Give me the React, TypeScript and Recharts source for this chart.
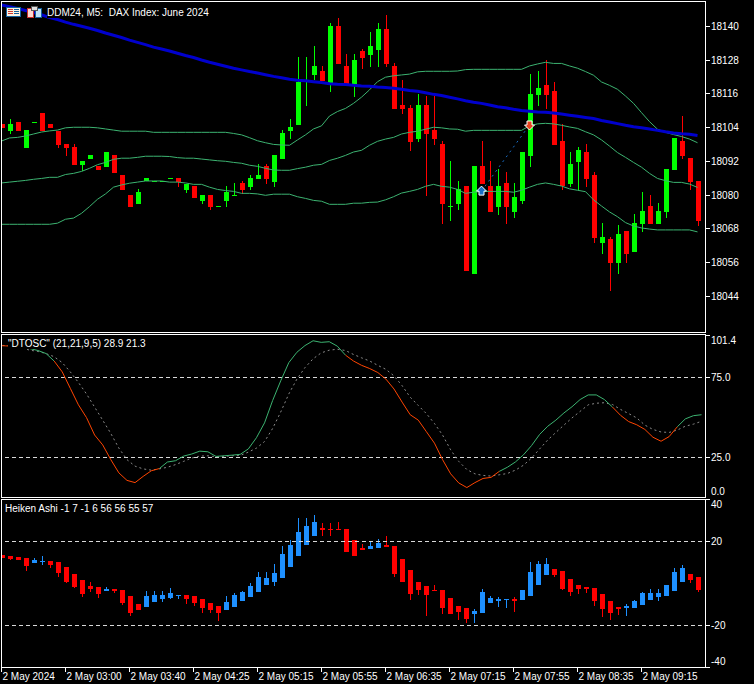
import React from "react"
import { Bar, ComposedChart, Line, ReferenceLine, XAxis, YAxis } from "recharts"

const FONT = "'Liberation Sans', Arial, sans-serif"

const tickLabels = [
  "2 May 2024", "2 May 03:00", "2 May 03:40", "2 May 04:25", "2 May 05:15", "2 May 05:55",
  "2 May 06:35", "2 May 07:15", "2 May 07:55", "2 May 08:35", "2 May 09:15",
]

const priceTicks = [18140, 18128, 18116, 18104, 18092, 18080, 18068, 18056, 18044]
const oscTicks = [101.4, 75, 25, 0]
const haTicks = [40, 20, -20, -40]

const priceOpen = [
  18105.3, 18102.8, 18106.0, 18096.7, 18105.6, 18109.2, 18105.3, 18102.8, 18098.2, 18097.1, 18090.7,
  18092.8, 18090.3, 18090.0, 18094.3, 18087.1, 18080.0, 18076.8, 18084.9, 18084.8, 18084.8, 18085.8,
  18086.1, 18081.8, 18083.2, 18077.9, 18080.0, 18075.8, 18077.9, 18079.8, 18084.3, 18082.9, 18085.7,
  18090.3, 18084.7, 18092.8, 18102.8, 18104.9, 18120.6, 18122.7, 18124.1, 18119.5, 18140.1, 18125.9,
  18119.5, 18131.2, 18129.8, 18131.6, 18139.1, 18125.9, 18112.0, 18111.0, 18099.9, 18112.0, 18103.1,
  18098.2, 18075.8, 18076.8, 18083.2, 18051.9, 18090.3, 18083.2, 18075.8, 18084.3, 18074.0, 18077.9,
  18093.9, 18115.6, 18119.1, 18117.0, 18099.2, 18083.9, 18091.8, 18095.3, 18087.1, 18063.0, 18064.4,
  18055.8, 18067.2, 18059.8, 18069.7, 18076.1, 18069.7, 18074.0, 18088.9, 18099.2, 18093.2, 18085.0,
]
const priceHigh = [
  18105.3, 18107.1, 18106.0, 18103.1, 18106.0, 18109.2, 18105.3, 18102.8, 18098.2, 18098.2, 18092.1,
  18094.3, 18090.3, 18095.3, 18094.3, 18087.1, 18080.0, 18082.2, 18086.1, 18085.0, 18085.0, 18086.1,
  18086.1, 18083.9, 18083.2, 18080.0, 18080.0, 18076.1, 18083.2, 18084.3, 18085.0, 18087.1, 18091.1,
  18091.1, 18094.3, 18103.1, 18107.1, 18129.1, 18129.1, 18133.0, 18125.9, 18141.2, 18143.0, 18130.2,
  18130.2, 18131.9, 18138.0, 18141.2, 18144.0, 18127.0, 18120.9, 18112.0, 18115.9, 18115.2, 18115.2,
  18099.2, 18092.1, 18085.0, 18083.2, 18090.3, 18099.2, 18092.1, 18089.3, 18088.2, 18084.3, 18095.3,
  18123.1, 18124.1, 18128.0, 18120.2, 18105.3, 18095.3, 18097.1, 18098.2, 18088.2, 18070.1, 18065.1,
  18069.4, 18067.2, 18073.3, 18081.1, 18080.0, 18077.2, 18089.3, 18100.3, 18108.1, 18093.2, 18085.0,
]
const priceLow = [
  18103.9, 18101.7, 18102.8, 18096.7, 18105.6, 18102.8, 18103.9, 18096.9, 18093.9, 18090.7, 18088.6,
  18092.8, 18088.9, 18090.0, 18087.9, 18081.8, 18075.8, 18076.8, 18084.9, 18084.8, 18084.8, 18085.8,
  18082.9, 18080.7, 18079.0, 18076.8, 18074.7, 18075.8, 18075.8, 18079.7, 18080.4, 18081.8, 18085.7,
  18083.9, 18082.9, 18092.8, 18099.9, 18104.9, 18111.7, 18120.9, 18120.6, 18116.7, 18126.6, 18119.5,
  18114.9, 18124.8, 18125.5, 18125.5, 18125.5, 18110.6, 18108.8, 18095.7, 18098.9, 18079.7, 18097.8,
  18069.7, 18070.8, 18074.7, 18053.0, 18051.9, 18083.9, 18074.0, 18072.9, 18069.7, 18071.9, 18076.8,
  18090.0, 18111.7, 18110.6, 18097.8, 18081.8, 18082.9, 18081.8, 18082.9, 18063.0, 18059.0, 18045.9,
  18051.9, 18055.8, 18059.8, 18066.9, 18069.7, 18069.7, 18071.9, 18088.9, 18092.8, 18081.8, 18069.0,
]
const priceClose = [
  18103.9, 18105.3, 18102.8, 18103.1, 18106.0, 18102.8, 18103.9, 18097.8, 18096.7, 18090.7, 18092.1,
  18094.3, 18088.9, 18095.3, 18087.9, 18081.8, 18075.8, 18081.1, 18086.1, 18085.0, 18085.0, 18086.1,
  18084.7, 18083.9, 18079.0, 18080.0, 18075.8, 18076.1, 18081.1, 18080.0, 18081.8, 18086.1, 18087.1,
  18085.7, 18094.3, 18102.1, 18104.2, 18120.2, 18120.9, 18125.9, 18120.6, 18140.1, 18126.6, 18119.5,
  18128.0, 18128.7, 18133.0, 18139.1, 18126.6, 18110.6, 18110.6, 18098.9, 18112.0, 18101.7, 18099.9,
  18076.8, 18076.1, 18082.2, 18053.0, 18090.3, 18083.9, 18074.0, 18083.2, 18075.8, 18079.3, 18095.3,
  18115.9, 18118.1, 18115.6, 18097.8, 18083.2, 18091.1, 18096.0, 18085.7, 18064.7, 18065.1, 18055.8,
  18066.2, 18059.0, 18070.1, 18074.3, 18069.7, 18074.3, 18089.3, 18100.3, 18093.9, 18084.7, 18070.8,
]

const bandUpper = [
  18099.2, 18100.3, 18100.5, 18101.0, 18101.7, 18102.4, 18102.8, 18103.1, 18103.9, 18104.1, 18104.1,
  18104.1, 18103.9, 18103.5, 18103.1, 18102.7, 18102.7, 18102.7, 18102.7, 18102.3, 18102.3, 18102.3,
  18102.3, 18102.3, 18102.3, 18102.3, 18102.3, 18102.3, 18102.3, 18101.9, 18101.4, 18100.4, 18099.3,
  18098.6, 18098.0, 18097.8, 18097.7, 18099.6, 18101.4, 18103.5, 18104.6, 18108.1, 18109.7, 18110.8,
  18112.6, 18114.8, 18117.4, 18120.3, 18121.9, 18122.4, 18122.7, 18123.0, 18123.8, 18124.0, 18124.0,
  18124.0, 18124.0, 18124.1, 18124.6, 18124.7, 18124.7, 18124.7, 18124.7, 18124.7, 18124.7, 18124.7,
  18125.9, 18126.6, 18127.2, 18126.8, 18126.8, 18125.9, 18125.1, 18123.9, 18122.6, 18120.2, 18119.0,
  18117.6, 18115.2, 18112.6, 18109.3, 18106.1, 18103.4, 18102.3, 18101.5, 18100.8, 18099.9, 18098.6,
]
const bandMiddle = [
  18084.3, 18084.6, 18084.9, 18085.2, 18085.6, 18085.9, 18086.3, 18086.3, 18087.3, 18087.7, 18088.4,
  18089.5, 18090.8, 18091.6, 18092.7, 18093.1, 18093.1, 18093.4, 18093.8, 18093.8, 18093.8, 18093.7,
  18093.3, 18093.1, 18093.1, 18092.8, 18092.5, 18092.2, 18092.0, 18091.6, 18091.3, 18090.6, 18090.2,
  18089.5, 18088.9, 18088.8, 18088.8, 18089.4, 18089.9, 18090.6, 18090.9, 18092.3, 18093.1, 18094.1,
  18095.3, 18095.9, 18097.7, 18099.1, 18099.9, 18100.5, 18101.7, 18102.3, 18102.7, 18103.4, 18104.1,
  18103.9, 18103.5, 18103.4, 18102.7, 18103.0, 18103.0, 18103.0, 18103.0, 18103.0, 18103.0, 18103.0,
  18104.6, 18105.3, 18105.5, 18105.3, 18104.8, 18104.2, 18103.7, 18102.5, 18101.4, 18099.6, 18097.4,
  18095.1, 18093.4, 18091.6, 18089.9, 18087.7, 18085.9, 18085.1, 18084.5, 18084.5, 18083.9, 18082.7,
]
const bandLower = [
  18069.6, 18069.6, 18069.6, 18069.6, 18069.6, 18069.6, 18069.6, 18070.0, 18071.4, 18071.8, 18073.5,
  18075.9, 18078.5, 18080.4, 18082.8, 18083.6, 18084.2, 18084.6, 18085.0, 18085.0, 18085.0, 18084.6,
  18084.6, 18084.3, 18083.8, 18083.8, 18082.8, 18082.0, 18081.6, 18081.3, 18080.6, 18080.6, 18080.4,
  18079.9, 18080.3, 18080.3, 18080.3, 18079.4, 18078.8, 18078.1, 18077.8, 18076.7, 18076.7, 18076.7,
  18077.1, 18077.1, 18077.4, 18077.5, 18078.3, 18079.4, 18080.7, 18081.3, 18082.0, 18083.1, 18083.8,
  18083.1, 18082.8, 18082.0, 18080.6, 18081.0, 18081.3, 18081.3, 18081.3, 18081.3, 18081.0, 18081.7,
  18082.8, 18083.8, 18084.3, 18083.8, 18083.2, 18082.2, 18081.7, 18081.2, 18078.3, 18076.1, 18074.0,
  18072.3, 18070.2, 18069.0, 18068.3, 18067.9, 18067.6, 18067.6, 18067.6, 18067.6, 18067.6, 18066.9,
]
const movingAverage = [
  18147.6, 18147.0, 18146.3, 18145.6, 18144.9, 18144.1, 18143.1, 18142.4, 18141.5, 18140.7, 18140.0,
  18139.3, 18138.5, 18137.6, 18136.8, 18136.0, 18135.1, 18134.3, 18133.5, 18132.6, 18131.9, 18131.2,
  18130.4, 18129.6, 18128.9, 18128.0, 18127.2, 18126.5, 18125.8, 18125.1, 18124.5, 18123.9, 18123.4,
  18122.8, 18122.2, 18121.7, 18121.2, 18120.8, 18120.6, 18120.3, 18120.0, 18119.6, 18119.4, 18119.3,
  18119.0, 18118.8, 18118.7, 18118.4, 18118.2, 18118.0, 18117.6, 18117.2, 18116.9, 18116.4, 18115.8,
  18115.4, 18114.8, 18114.2, 18113.5, 18113.0, 18112.6, 18112.0, 18111.4, 18111.0, 18110.5, 18110.1,
  18109.8, 18109.5, 18109.4, 18109.2, 18108.8, 18108.4, 18108.0, 18107.6, 18107.2, 18106.5, 18106.0,
  18105.4, 18104.8, 18104.3, 18103.9, 18103.5, 18103.0, 18102.5, 18102.1, 18101.8, 18101.6, 18101.2,
]

const tradeBars = [60, 66]
const tradePrices = [18081.4, 18104.9]

const oscFast = [
  94.8, 94.6, 94.4, 93.9, 92.9, 91.7, 89.8, 85.1, 78.3, 68.0, 57.7,
  49.7, 38.8, 32.6, 23.4, 15.1, 10.4, 9.0, 12.9, 16.4, 17.8, 21.9,
  22.7, 25.6, 26.9, 28.7, 28.3, 25.4, 25.8, 26.2, 26.7, 30.1, 37.1,
  46.4, 60.4, 72.7, 84.1, 90.6, 94.8, 97.8, 96.8, 97.2, 94.4, 88.8,
  85.1, 82.4, 80.4, 77.9, 73.8, 67.6, 59.4, 51.5, 48.1, 40.9, 33.7,
  23.4, 14.5, 8.8, 5.9, 9.0, 11.6, 12.3, 16.0, 18.6, 21.9, 26.4,
  32.2, 39.2, 44.3, 48.1, 52.6, 56.5, 61.0, 63.9, 63.9, 61.0, 56.3,
  51.1, 47.2, 45.2, 42.3, 37.4, 34.9, 37.8, 43.9, 48.9, 50.9, 51.5,
]
const oscSlow = [
  95.0, 94.8, 94.4, 93.3, 91.9, 91.1, 89.8, 87.8, 84.1, 78.3, 71.7,
  64.5, 56.3, 48.1, 39.8, 30.6, 23.4, 19.3, 17.6, 16.8, 17.6, 18.6,
  20.3, 22.3, 24.4, 25.6, 25.8, 25.2, 25.4, 25.8, 26.0, 28.1, 30.6,
  34.7, 42.9, 53.2, 64.5, 73.8, 81.0, 86.5, 90.2, 91.9, 92.5, 91.7,
  89.2, 87.1, 85.1, 82.4, 79.9, 75.8, 69.7, 62.5, 57.3, 52.2, 46.0,
  38.8, 29.5, 22.3, 17.2, 14.5, 13.5, 13.1, 13.9, 14.7, 16.8, 19.9,
  24.4, 30.1, 35.7, 40.4, 45.0, 49.5, 53.6, 57.7, 58.7, 59.0, 57.9,
  54.8, 52.2, 49.5, 45.0, 42.3, 40.7, 40.4, 41.9, 44.3, 45.6, 47.4,
]

const haOpen = [
  13.5, 13.0, 12.5, 12.1, 9.7, 10.2, 10.6, 10.2, 7.8, 4.4, 1.6,
  -1.3, -1.7, -3.7, -2.7, -3.2, -6.0, -9.8, -11.3, -8.9, -7.5, -7.0,
  -6.0, -5.6, -6.0, -7.5, -9.4, -10.8, -12.7, -11.3, -8.4, -6.5, -4.1,
  -0.8, 0.6, 2.5, 7.8, 13.0, 18.3, 22.5, 26.3, 25.9, 25.9, 25.9,
  20.6, 16.8, 16.3, 16.8, 18.3, 17.8, 11.6, 6.3, 0.6, -1.3, -3.2,
  -3.2, -7.0, -10.8, -11.7, -14.6, -14.1, -9.4, -8.4, -7.8, -7.5, -7.9,
  -6.0, -0.8, 4.0, 6.8, 5.9, 2.1, -0.8, -1.7, -2.2, -5.1, -8.4,
  -11.3, -11.7, -11.7, -10.3, -7.9, -6.5, -6.0, -3.7, 0.6, 4.4, 3.0,
]
const haHigh = [
  13.5, 13.0, 12.5, 12.1, 12.1, 13.0, 10.6, 10.2, 7.8, 4.4, 1.6,
  0.6, -1.7, -1.7, -2.7, -3.2, -6.0, -9.8, -3.7, -3.7, -3.7, -2.2,
  -5.6, -5.6, -6.0, -7.5, -9.4, -10.8, -6.0, -4.6, -3.7, 0.2, 5.4,
  5.4, 9.2, 17.8, 20.6, 31.1, 31.1, 32.5, 28.7, 28.7, 29.2, 25.9,
  20.6, 18.7, 20.2, 21.1, 22.5, 17.8, 11.6, 6.3, 0.6, -1.3, -0.8,
  -3.2, -7.0, -10.8, -11.7, -12.2, -2.7, -6.0, -6.5, -7.5, -6.5, -3.2,
  10.2, 10.6, 12.1, 6.8, 5.9, 2.1, -0.8, -1.7, -2.2, -5.1, -8.4,
  -11.3, -9.8, -7.9, -4.1, -2.7, -2.7, -0.8, 7.3, 8.7, 4.4, 3.0,
]
const haLow = [
  12.1, 11.1, 11.1, 5.9, 9.7, 8.7, 7.3, 3.0, 0.2, -2.2, -6.5,
  -4.1, -7.0, -3.7, -4.6, -10.3, -15.6, -12.7, -11.3, -8.9, -8.9, -7.5,
  -7.5, -9.8, -10.8, -14.1, -14.1, -17.9, -12.7, -11.3, -8.4, -6.5, -4.1,
  -0.8, -1.3, 2.5, 7.8, 13.0, 18.3, 22.5, 22.5, 22.5, 25.4, 14.9,
  13.0, 15.9, 16.3, 16.8, 17.3, 3.0, 0.6, -7.9, -5.6, -15.6, -3.7,
  -14.6, -14.6, -17.5, -18.9, -18.9, -14.1, -9.4, -11.3, -11.7, -13.7, -7.9,
  -6.0, -0.8, 4.0, 3.0, -3.2, -6.0, -5.1, -4.6, -10.8, -16.0, -17.5,
  -15.1, -15.6, -11.7, -10.3, -7.9, -8.4, -6.0, -3.7, 0.6, 0.2, -4.1,
]
const haClose = [
  12.1, 11.6, 11.1, 8.3, 11.1, 10.6, 8.7, 4.9, 0.6, -1.7, -5.1,
  -2.7, -5.1, -2.7, -3.7, -9.4, -14.1, -12.7, -6.0, -5.6, -5.6, -4.6,
  -5.6, -7.5, -9.4, -11.7, -12.7, -14.1, -8.9, -5.6, -4.1, -1.3, 3.0,
  2.5, 4.9, 14.0, 18.3, 24.4, 27.3, 29.2, 25.4, 25.4, 25.4, 14.9,
  13.0, 15.9, 17.8, 19.2, 17.3, 4.4, 0.6, -5.1, -3.2, -5.6, -3.7,
  -11.7, -14.6, -13.7, -17.0, -13.2, -4.1, -7.0, -7.5, -7.5, -8.4, -3.2,
  5.4, 9.2, 9.2, 4.0, -2.7, -4.1, -2.7, -2.7, -8.4, -12.2, -14.1,
  -12.2, -10.8, -8.4, -4.6, -4.6, -4.6, -0.8, 5.4, 7.3, 1.6, -3.2,
]

const priceData = priceOpen.map((open, k) => ({
  k,
  open,
  close: priceClose[k],
  range: [priceLow[k], priceHigh[k]],
  upper: bandUpper[k],
  middle: bandMiddle[k],
  lower: bandLower[k],
  ma: movingAverage[k],
  trade: tradeBars.includes(k) ? tradePrices[tradeBars.indexOf(k)] : null,
}))

// the fast line is green while it sits above the slow one, orange otherwise
const isAbove = (k: number) => oscFast[k] >= oscSlow[k]
const oscData = oscFast.map((fast, k) => ({
  k,
  slow: oscSlow[k],
  rising: isAbove(k) || (k > 0 && isAbove(k - 1)) ? fast : null,
  falling: !isAbove(k) || (k > 0 && !isAbove(k - 1)) ? fast : null,
}))

const haData = haOpen.map((open, k) => ({
  k,
  open,
  close: haClose[k],
  range: [haLow[k], haHigh[k]],
}))

const candleShape = (upColor: string) => (props: any) => {
  const { x, y, width, height, payload } = props
  const [low, high] = payload.range
  const unit = height / (high - low)
  const top = y + (high - Math.max(payload.open, payload.close)) * unit
  const bodyHeight = Math.max(Math.abs(payload.open - payload.close) * unit, 1)
  const color = payload.close >= payload.open ? upColor : "#ff0000"
  return (
    <g shapeRendering="crispEdges">
      <rect x={x + 2} y={y} width={1} height={height} fill={color} />
      <rect x={x} y={top} width={width} height={bodyHeight} fill={color} />
    </g>
  )
}

const valueTick = (format: (v: number) => string, nudge: Record<string, number>) => (props: any) => {
  const { x, y, payload } = props
  const shift = nudge[payload.value] ?? 0
  return (
    <g>
      <line x1={x + 3.5} x2={x + 8.5} y1={y} y2={y} stroke="#fff" shapeRendering="crispEdges" />
      <text x={x + 9.5} y={y + shift + 3.5} fill="#fff" fontSize={10} fontFamily={FONT}>
        {format(payload.value)}
      </text>
    </g>
  )
}

const TimeTick = (props: any) => {
  const { x, y, payload } = props
  return (
    <g>
      <line x1={x} x2={x} y1={y} y2={y + 5} stroke="#fff" shapeRendering="crispEdges" />
      <text x={x + 1} y={y + 13} fill="#fff" fontSize={10} fontFamily={FONT}>
        {tickLabels[payload.value / 8]}
      </text>
    </g>
  )
}

const tradeDot = (props: any) => {
  const { cx, cy, payload, index } = props
  if (payload.trade == null) return <g key={index} />
  const dir = payload.k === tradeBars[0] ? 1 : -1
  const points = [[0, -5], [5, 0], [2.5, 0], [2.5, 4], [-2.5, 4], [-2.5, 0], [-5, 0]]
    .map(([px, py]) => `${cx + px},${cy + py * dir}`)
    .join(" ")
  return <polygon key={index} points={points} fill={dir > 0 ? "#1a6fc8" : "#e8431f"} stroke="#fff" strokeWidth={1} />
}

const MARGIN_LEFT = 5.5
const AXIS_WIDTH = 52.5
const CHART_WIDTH = 762

const panelStyle = (top: number, height: number): React.CSSProperties => ({
  position: "absolute",
  left: -8,
  top,
  width: CHART_WIDTH,
  height,
})

const frameStyle = (top: number, height: number): React.CSSProperties => ({
  position: "absolute",
  left: 1,
  top,
  width: 703,
  height,
  border: "1px solid #fff",
  pointerEvents: "none",
})

const labelStyle: React.CSSProperties = {
  position: "absolute",
  color: "#fff",
  fontFamily: FONT,
  fontSize: 10,
  lineHeight: "11px",
  whiteSpace: "pre",
  background: "#000",
}

const Icons = () => (
  <svg width={40} height={14} style={{ position: "absolute", left: 5, top: 6 }}>
    <rect x={1.5} y={1.5} width={14} height={9} fill="#fdf3e2" stroke="#14609c" />
    <rect x={3} y={3} width={5} height={1} fill="#d0392b" />
    <rect x={3} y={5} width={5} height={1} fill="#d0392b" />
    <rect x={3} y={7} width={5} height={1} fill="#d0392b" />
    <rect x={9} y={3} width={5} height={1} fill="#14609c" />
    <rect x={9} y={5} width={5} height={1} fill="#14609c" />
    <rect x={9} y={7} width={5} height={1} fill="#14609c" />
    <rect x={22.5} y={2.5} width={6} height={9} fill="#fbd8d0" stroke="#c9302c" />
    <rect x={30.5} y={2.5} width={6} height={9} fill="#bfe3f7" stroke="#14609c" />
    <rect x={26.5} y={0.5} width={6} height={4} fill="#ddd" stroke="#555" />
  </svg>
)

export default function App() {
  return (
    <div style={{ position: "relative", width: 754, height: 684, background: "#000", overflow: "hidden" }}>
      <style>{"body{margin:0;background:#000}"}</style>

      <div style={panelStyle(2, 330)}>
        <ComposedChart width={CHART_WIDTH} height={330} data={priceData} margin={{ top: 0, right: 0, bottom: 0, left: MARGIN_LEFT }}>
          <XAxis dataKey="k" hide />
          <YAxis
            orientation="right"
            width={AXIS_WIDTH}
            domain={[18031.3, 18148.64]}
            ticks={priceTicks}
            interval={0}
            allowDataOverflow
            axisLine={false}
            tickLine={false}
            tickSize={0}
            tickMargin={0}
            tick={valueTick((v) => String(v), {})}
          />
          <Bar dataKey="range" barSize={5} isAnimationActive={false} shape={candleShape("#00ff00")} />
          <Line dataKey="upper" stroke="#3cb371" strokeWidth={1} dot={false} isAnimationActive={false} />
          <Line dataKey="middle" stroke="#3cb371" strokeWidth={1} dot={false} isAnimationActive={false} />
          <Line dataKey="lower" stroke="#3cb371" strokeWidth={1} dot={false} isAnimationActive={false} />
          <Line dataKey="ma" stroke="#0000cd" strokeWidth={3} dot={false} isAnimationActive={false} />
          <Line
            dataKey="trade"
            stroke="#1a6fc8"
            strokeWidth={1}
            strokeDasharray="2 4"
            connectNulls
            dot={tradeDot}
            isAnimationActive={false}
          />
        </ComposedChart>
      </div>

      <div style={panelStyle(335, 162)}>
        <ComposedChart width={CHART_WIDTH} height={162} data={oscData} margin={{ top: 0, right: 0, bottom: 0, left: MARGIN_LEFT }}>
          <XAxis dataKey="k" hide />
          <YAxis
            orientation="right"
            width={AXIS_WIDTH}
            domain={[0, 101.4]}
            ticks={oscTicks}
            interval={0}
            allowDataOverflow
            axisLine={false}
            tickLine={false}
            tickSize={0}
            tickMargin={0}
            tick={valueTick((v) => v.toFixed(1), { "101.4": 5, "0": -6 })}
          />
          <ReferenceLine y={75} stroke="#d8d8d8" strokeDasharray="4 3" shapeRendering="crispEdges" />
          <ReferenceLine y={25} stroke="#d8d8d8" strokeDasharray="4 3" shapeRendering="crispEdges" />
          <Line dataKey="slow" stroke="#8a8a8a" strokeWidth={1} strokeDasharray="2 3" dot={false} isAnimationActive={false} />
          <Line dataKey="rising" stroke="#3cb371" strokeWidth={1} dot={false} isAnimationActive={false} />
          <Line dataKey="falling" stroke="#ff4500" strokeWidth={1} dot={false} isAnimationActive={false} />
        </ComposedChart>
      </div>

      <div style={panelStyle(499, 185)}>
        <ComposedChart width={CHART_WIDTH} height={185} data={haData} margin={{ top: 0, right: 0, bottom: 0, left: MARGIN_LEFT }}>
          <XAxis
            dataKey="k"
            height={17}
            interval={7}
            axisLine={false}
            tickLine={false}
            tickSize={0}
            tickMargin={0}
            tick={<TimeTick />}
          />
          <YAxis
            orientation="right"
            width={AXIS_WIDTH}
            domain={[-40, 40]}
            ticks={haTicks}
            interval={0}
            allowDataOverflow
            axisLine={false}
            tickLine={false}
            tickSize={0}
            tickMargin={0}
            tick={valueTick((v) => String(v), { "40": 5, "-40": -6 })}
          />
          <ReferenceLine y={20} stroke="#d8d8d8" strokeDasharray="4 3" shapeRendering="crispEdges" />
          <ReferenceLine y={-20} stroke="#d8d8d8" strokeDasharray="4 3" shapeRendering="crispEdges" />
          <Bar dataKey="range" barSize={5} isAnimationActive={false} shape={candleShape("#1e90ff")} />
        </ComposedChart>
      </div>

      <div style={{ position: "absolute", left: 0, top: 0, width: 1, height: 668, background: "#000" }} />
      <div style={frameStyle(1, 330)} />
      <div style={frameStyle(334, 162)} />
      <div style={frameStyle(499, 167)} />

      <Icons />
      <div style={{ ...labelStyle, left: 47, top: 7 }}>{"DDM24, M5:  DAX Index: June 2024"}</div>
      <div style={{ ...labelStyle, left: 8, top: 338 }}>{'"DTOSC" (21,21,9,5) 28.9 21.3'}</div>
      <div style={{ ...labelStyle, left: 5, top: 503 }}>{"Heiken Ashi -1 7 -1 6 56 56 55 57"}</div>
    </div>
  )
}
